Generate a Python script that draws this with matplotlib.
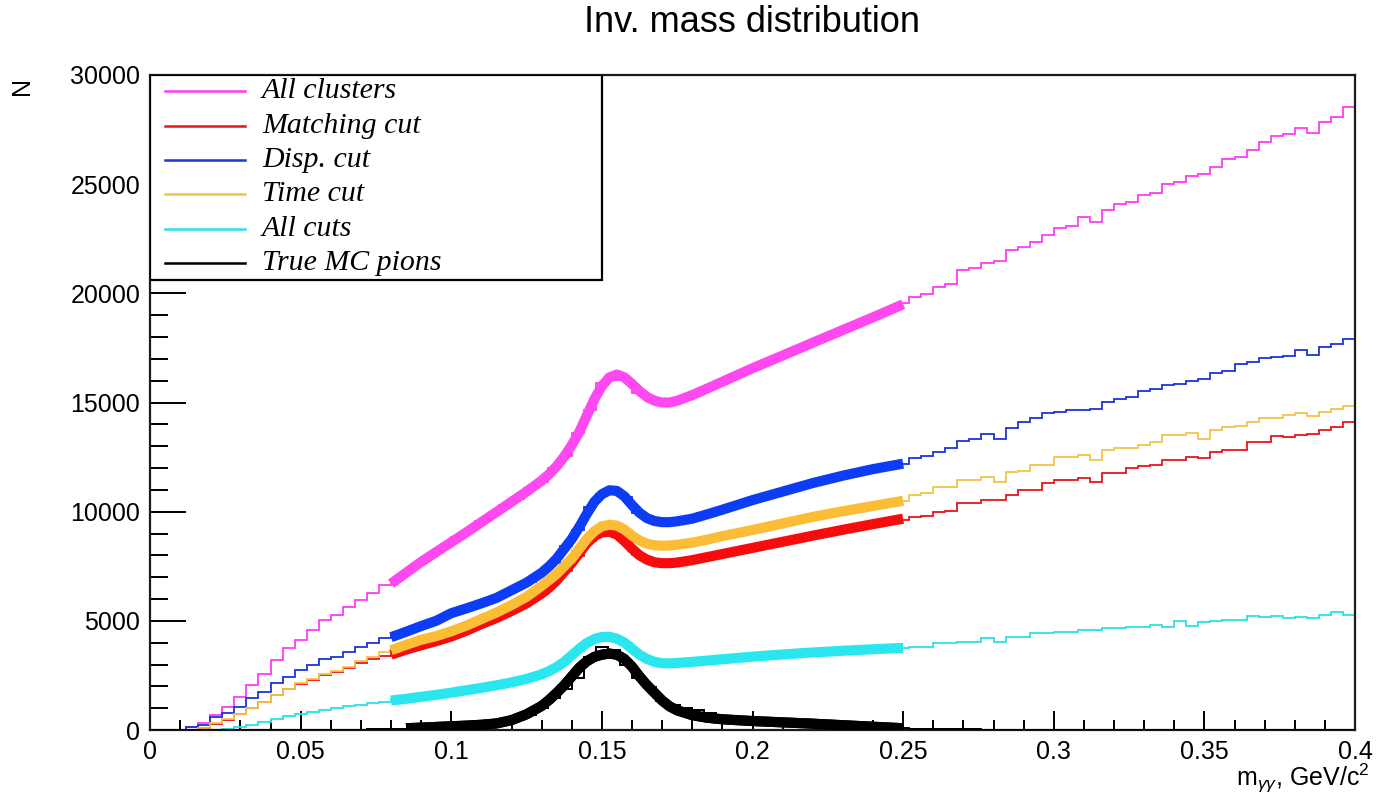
import numpy as np
import matplotlib
matplotlib.use("Agg")
import matplotlib.pyplot as plt
from matplotlib.patches import Rectangle

plt.rcParams['font.family'] = ['Liberation Sans', 'DejaVu Sans']
plt.rcParams['mathtext.fontset'] = 'custom'
plt.rcParams['mathtext.rm'] = 'Liberation Sans'
plt.rcParams['mathtext.it'] = 'Liberation Sans:italic'

# 100 bins, 0 - 0.4 GeV/c^2
bin_edges = np.linspace(0.0, 0.4, 101)

all_clusters = [
    0, 0, 0, 150, 300, 690, 1070, 1520, 2060, 2560,
    3200, 3740, 4120, 4580, 5040, 5270, 5650, 5950, 6260, 6640,
    6850, 7350, 7650, 8100, 8380, 8820, 9100, 9560, 9850, 10300,
    10600, 11080, 11380, 12000, 12550, 13600, 14650, 15900, 16050, 16050,
    15450, 15250, 14950, 15100, 15300, 15400, 15750, 15900, 16250, 16400,
    16750, 16850, 17200, 17350, 17680, 17820, 18150, 18280, 18600, 18750,
    19080, 19200, 19550, 19850, 19980, 20300, 20450, 21050, 21150, 21400,
    21480, 22000, 22120, 22340, 22660, 22980, 23080, 23490, 23260, 23810,
    24080, 24180, 24500, 24580, 25000, 25100, 25380, 25450, 25780, 26150,
    26230, 26560, 26920, 27200, 27300, 27560, 27340, 27840, 28070, 28530]

matching_cut = [
    0, 0, 0, 0, 80, 280, 470, 730, 1000, 1290,
    1600, 1860, 2100, 2300, 2500, 2650, 2850, 3050, 3250, 3400,
    3500, 3760, 3850, 4070, 4170, 4430, 4580, 4890, 5040, 5360,
    5560, 5920, 6220, 6780, 7280, 7980, 8650, 9100, 8980, 8650,
    8000, 7780, 7600, 7680, 7700, 7870, 7920, 8100, 8140, 8310,
    8370, 8550, 8590, 8770, 8800, 8990, 9020, 9200, 9240, 9420,
    9440, 9620, 9640, 9770, 9800, 10000, 10020, 10380, 10400, 10530,
    10550, 10760, 10990, 11000, 11300, 11450, 11470, 11520, 11370, 11750,
    11760, 11980, 12090, 12130, 12360, 12380, 12510, 12440, 12740, 12820,
    12830, 13200, 13210, 13460, 13400, 13510, 13580, 13740, 13880, 14110]

disp_cut = [
    0, 0, 0, 150, 250, 610, 770, 1070, 1460, 1750,
    2140, 2440, 2750, 2980, 3240, 3360, 3590, 3810, 3970, 4200,
    4380, 4520, 4800, 4920, 5180, 5400, 5650, 5780, 6050, 6220,
    6580, 6800, 7250, 7650, 8450, 9150, 10200, 10800, 10900, 10650,
    9950, 9700, 9480, 9560, 9600, 9800, 9880, 10130, 10230, 10480,
    10580, 10800, 10880, 11120, 11200, 11420, 11480, 11700, 11740, 11930,
    11960, 12150, 12180, 12450, 12560, 12740, 12900, 13230, 13320, 13580,
    13350, 13810, 14110, 14270, 14500, 14580, 14650, 14660, 14700, 15030,
    15150, 15230, 15520, 15600, 15780, 15830, 16000, 16060, 16350, 16450,
    16750, 16850, 17020, 17090, 17120, 17400, 17170, 17550, 17700, 17890]

time_cut = [
    0, 0, 0, 0, 100, 300, 500, 750, 1030, 1300,
    1620, 1900, 2150, 2350, 2550, 2700, 2900, 3150, 3350, 3550,
    3720, 3980, 4100, 4300, 4400, 4660, 4800, 5120, 5300, 5620,
    5850, 6250, 6580, 7100, 7600, 8250, 8850, 9400, 9350, 9150,
    8700, 8550, 8400, 8500, 8520, 8680, 8720, 8920, 8960, 9140,
    9190, 9380, 9430, 9620, 9680, 9850, 9890, 10060, 10100, 10250,
    10280, 10400, 10480, 10760, 10840, 11140, 11150, 11450, 11460, 11600,
    11370, 11830, 11840, 12130, 12140, 12510, 12520, 12590, 12360, 12820,
    12900, 12910, 13050, 13200, 13510, 13520, 13610, 13350, 13740, 13900,
    13910, 14110, 14270, 14280, 14420, 14500, 14380, 14580, 14680, 14840]

all_cuts = [
    0, 0, 0, 0, 0, 0, 30, 120, 250, 380,
    500, 620, 730, 830, 920, 1000, 1080, 1150, 1220, 1300,
    1400, 1430, 1540, 1580, 1690, 1740, 1860, 1920, 2050, 2120,
    2260, 2370, 2580, 2780, 3220, 3620, 4100, 4250, 4200, 3980,
    3500, 3220, 3040, 3080, 3090, 3160, 3180, 3260, 3280, 3360,
    3370, 3440, 3450, 3520, 3520, 3590, 3590, 3650, 3650, 3700,
    3700, 3760, 3750, 3810, 3820, 3970, 3980, 4040, 4050, 4200,
    4040, 4270, 4280, 4430, 4440, 4500, 4510, 4580, 4590, 4660,
    4670, 4730, 4740, 4810, 4730, 4990, 4770, 4960, 4970, 5040,
    5050, 5220, 5190, 5200, 5110, 5190, 5110, 5270, 5420, 5270]

true_mc = [
    0, 0, 0, 0, 0, 0, 0, 0, 0, 0,
    0, 0, 0, 0, 5, 10, 15, 20, 25, 35,
    45, 55, 70, 85, 100, 120, 150, 190, 240, 320,
    480, 700, 1000, 1450, 1900, 2400, 3360, 3810, 3650, 3000,
    2400, 1950, 1350, 1140, 1000, 920, 780, 650, 560, 480,
    420, 380, 340, 300, 270, 240, 210, 180, 160, 140,
    120, 100, 80, 65, 55, 45, 38, 30, 25, 20,
    15, 12, 10, 8, 6, 5, 4, 3, 2, 1,
    0, 0, 0, 0, 0, 0, 0, 0, 0, 0,
    0, 0, 0, 0, 0, 0, 0, 0, 0, 0]

# fit curves (sampled), range 0.08 - 0.25
fit_x = [0.080, 0.085, 0.090, 0.095, 0.100, 0.105, 0.110, 0.115, 0.120, 0.125,
         0.130, 0.1325, 0.135, 0.1375, 0.140, 0.1425, 0.145, 0.1475, 0.150, 0.1525,
         0.155, 0.1575, 0.160, 0.1625, 0.165, 0.1675, 0.170, 0.1725, 0.175, 0.180,
         0.185, 0.190, 0.195, 0.200, 0.210, 0.220, 0.230, 0.240, 0.250]

fit_all_clusters = [6700, 7200, 7700, 8150, 8600, 9050, 9520, 9980, 10450, 10920,
                    11420, 11720, 12080, 12520, 13050, 13650, 14400, 15150, 15750, 16150,
                    16280, 16150, 15850, 15520, 15250, 15080, 15000, 15000, 15080, 15340,
                    15640, 15950, 16260, 16570, 17150, 17740, 18320, 18900, 19500]
fit_matching = [3450, 3680, 3880, 4070, 4280, 4550, 4850, 5130, 5450, 5800,
                6250, 6520, 6850, 7250, 7650, 8100, 8550, 8880, 9050, 9080,
                8950, 8650, 8300, 8000, 7800, 7680, 7640, 7640, 7670, 7780,
                7920, 8060, 8200, 8340, 8620, 8900, 9170, 9430, 9680]
fit_disp = [4250, 4500, 4760, 5000, 5350, 5570, 5800, 6050, 6400, 6750,
            7200, 7500, 7850, 8300, 8750, 9300, 9900, 10450, 10800, 10980,
            10950, 10700, 10300, 9950, 9700, 9570, 9520, 9520, 9560, 9680,
            9880, 10090, 10310, 10530, 10920, 11310, 11650, 11950, 12200]
fit_time = [3650, 3900, 4130, 4300, 4520, 4780, 5080, 5380, 5720, 6100,
            6600, 6870, 7150, 7500, 7850, 8300, 8750, 9100, 9330, 9400,
            9360, 9180, 8900, 8680, 8530, 8460, 8440, 8450, 8480, 8580,
            8720, 8880, 9020, 9160, 9460, 9760, 10020, 10260, 10500]
fit_all_cuts = [1350, 1430, 1520, 1610, 1710, 1820, 1930, 2050, 2180, 2340,
                2550, 2700, 2880, 3120, 3420, 3720, 3980, 4170, 4260, 4270,
                4180, 4000, 3720, 3450, 3250, 3120, 3060, 3050, 3070, 3120,
                3180, 3240, 3300, 3360, 3460, 3550, 3630, 3700, 3760]
fit_true_mc = [np.nan, 80, 110, 140, 170, 200, 240, 300, 450, 720,
               1100, 1380, 1700, 2050, 2450, 2850, 3150, 3350, 3450, 3500,
               3450, 3250, 2900, 2450, 2050, 1700, 1350, 1080, 900, 680,
               560, 490, 450, 410, 350, 290, 220, 150, 80]

labels = ["All clusters", "Matching cut", "Disp. cut", "Time cut", "All cuts", "True MC pions"]
hists = [all_clusters, matching_cut, disp_cut, time_cut, all_cuts, true_mc]
fits = [fit_all_clusters, fit_matching, fit_disp, fit_time, fit_all_cuts, fit_true_mc]
thin_colors = ['#ff3cf5', '#e8141c', '#1c34d8', '#f3c44a', '#2ae0e8', '#000000']
thick_colors = ['#ff48f0', '#f60c0c', '#0c3cf6', '#fbbd36', '#2ae6ee', '#000000']

fig = plt.figure(figsize=(13.79, 7.96), dpi=100)
ax = fig.add_axes([150 / 1379, 1 - 730 / 796, 1205 / 1379, 655 / 796])

for h, c in zip(hists, thin_colors):
    ax.stairs(h, bin_edges, color=c, lw=1.3, baseline=None, zorder=2)
for f, c in zip(fits, thick_colors):
    ax.plot(fit_x, f, color=c, lw=7.3, solid_capstyle='butt', zorder=3)
# black on top
ax.stairs(true_mc, bin_edges, color='black', lw=1.3, baseline=None, zorder=4)
ax.plot(fit_x, fit_true_mc, color='black', lw=7.3, solid_capstyle='butt', zorder=4)

ax.set_xlim(0, 0.4)
ax.set_ylim(0, 30000)

xt = [0, 0.05, 0.1, 0.15, 0.2, 0.25, 0.3, 0.35, 0.4]
ax.set_xticks(xt)
ax.set_xticklabels(["0", "0.05", "0.1", "0.15", "0.2", "0.25", "0.3", "0.35", "0.4"])
ax.set_xticks(np.arange(0, 0.4001, 0.01), minor=True)
yt = [0, 5000, 10000, 15000, 20000, 25000, 30000]
ax.set_yticks(yt)
ax.set_yticklabels([str(v) for v in yt])
ax.set_yticks(np.arange(0, 30001, 1000), minor=True)

ax.tick_params(axis='both', which='both', direction='in', top=False, right=False,
               width=1.4, labelsize=18, colors='black')
ax.tick_params(axis='y', which='major', length=26, pad=7)
ax.tick_params(axis='y', which='minor', length=13)
ax.tick_params(axis='x', which='major', length=14, pad=7)
ax.tick_params(axis='x', which='minor', length=7)
for s in ax.spines.values():
    s.set_linewidth(1.6)
    s.set_color('#1a1a1a')

# legend box
ax.add_patch(Rectangle((0, 0.687), 0.375, 0.313, transform=ax.transAxes,
                       facecolor='white', edgecolor='black', lw=1.6, zorder=10))
row_y = [0.976, 0.922, 0.870, 0.818, 0.765, 0.713]
for lab, c, yy in zip(labels, thin_colors, row_y):
    ax.plot([0.0124, 0.0788], [yy, yy], color=c, lw=1.8, transform=ax.transAxes,
            zorder=11, clip_on=False)
    ax.text(0.093, yy, lab, transform=ax.transAxes, fontsize=21.5,
            family=['Liberation Serif', 'DejaVu Serif'], style='italic',
            va='center', ha='left', zorder=11)

fig.text(752 / 1379, 1 - 22 / 796, "Inv. mass distribution", fontsize=26,
         ha='center', va='center')
fig.text(22 / 1379, 1 - 86 / 796, "N", fontsize=18, rotation=90, ha='center', va='center')
fig.text(1370 / 1379, 1 - 778 / 796, r"m$_{\gamma\gamma}$, GeV/c$^{2}$", fontsize=18,
         ha='right', va='center')

fig.savefig("out.png", dpi=100)
